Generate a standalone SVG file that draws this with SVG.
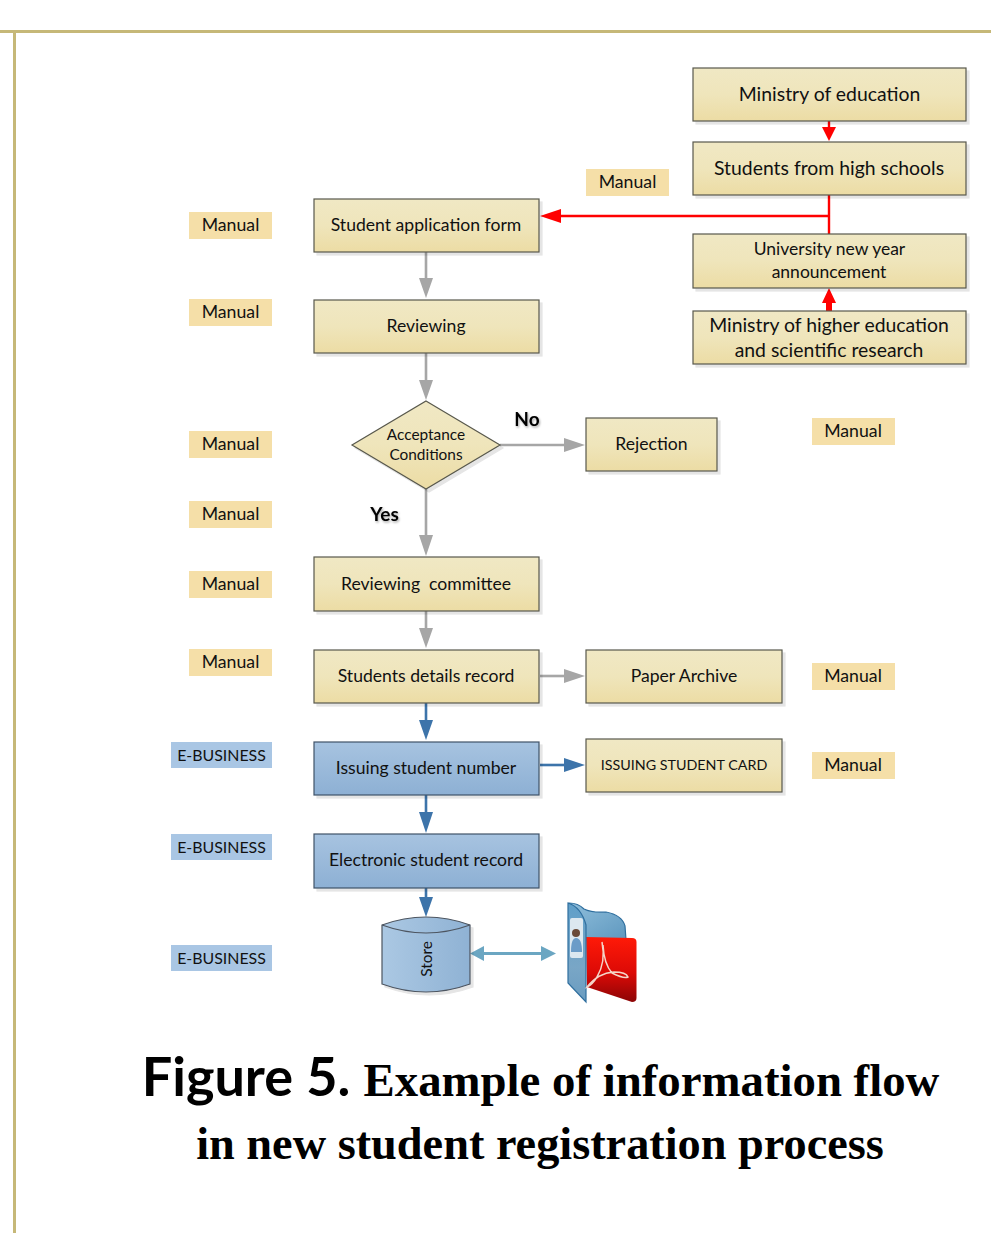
<svg xmlns="http://www.w3.org/2000/svg" width="991" height="1233" viewBox="0 0 991 1233">
<style>
text{font-family:Lato,"Open Sans","Liberation Sans",sans-serif;fill:#111;text-anchor:middle}
.b{stroke:#58584c;stroke-width:1.2;fill:url(#tan);filter:url(#sh)}
.bb{stroke:#3f5268;stroke-width:1.2;fill:url(#blue);filter:url(#sh)}
.t{font-size:17.6px}
.big{font-size:19.4px}
.a{font-size:17.5px}
.s{font-size:15.4px}
.c{font-size:14.3px}
.lm{fill:#f5dfa8}
.le{fill:#a9c6e4}
.tag{font-size:17.7px}
.eb{font-size:15.9px}
.g{fill:none;stroke:#a6a6a6;stroke-width:2.6}
.r{fill:none;stroke:#ff0000;stroke-width:2.4}
.bl{fill:none;stroke:#3d74aa;stroke-width:2.6}
.ag{fill:#a6a6a6}.ar{fill:#ff0000}.ab{fill:#3d74aa}.at{fill:#6ba6c2}
.yn{font-size:19px;font-weight:700;fill:#000}
.cap{font-family:"Liberation Serif",serif;font-weight:700;fill:#000}
</style>
<defs>
<linearGradient id="tan" x1="0" y1="0" x2="0" y2="1"><stop offset="0" stop-color="#f0e8c4"/><stop offset="0.5" stop-color="#efe5bb"/><stop offset="1" stop-color="#ecdca4"/></linearGradient>
<linearGradient id="blue" x1="0" y1="0" x2="0" y2="1"><stop offset="0" stop-color="#a7c3e0"/><stop offset="1" stop-color="#8db0d4"/></linearGradient>
<linearGradient id="cyl" x1="0" y1="0" x2="1" y2="0"><stop offset="0" stop-color="#abc8e3"/><stop offset="1" stop-color="#8fb2d4"/></linearGradient>
<linearGradient id="pdf" x1="0" y1="0" x2="0" y2="1"><stop offset="0" stop-color="#ff1a08"/><stop offset="0.55" stop-color="#dc0a06"/><stop offset="1" stop-color="#8c0506"/></linearGradient>
<linearGradient id="fold" x1="0" y1="0" x2="1" y2="1"><stop offset="0" stop-color="#8fbedb"/><stop offset="1" stop-color="#5f98bf"/></linearGradient>
<linearGradient id="panel" x1="0" y1="0" x2="0" y2="1"><stop offset="0" stop-color="#5f9fc9"/><stop offset="0.65" stop-color="#79a6c6"/><stop offset="1" stop-color="#6a9cc0"/></linearGradient>
<filter id="sh" x="-5%" y="-10%" width="112%" height="125%"><feDropShadow dx="3" dy="3" stdDeviation="0.7" flood-color="#000" flood-opacity="0.1"/></filter>
<filter id="ts" x="-20%" y="-20%" width="140%" height="150%"><feDropShadow dx="1" dy="1.500" stdDeviation="1" flood-color="#000" flood-opacity="0.35"/></filter>
</defs>
<g id="page-frame">
<rect x="0" y="30" width="991" height="3" fill="#c6b878"/>
<rect x="13" y="30" width="3" height="1203" fill="#c6b878"/>
</g>
<g id="connectors">
<path class="r" d="M829 121V128"/><path class="ar" d="M822 127H836L829 141Z"/>
<path class="r" d="M829 195V234M829 216H558"/><path class="ar" d="M540 216L561 209V223Z"/>
<path class="r" d="M829 311V300" style="stroke-width:6"/><path class="ar" d="M829 288L836 303H822Z"/>
<path class="g" d="M426 252V280"/><path class="ag" d="M419 278H433L426 298Z"/>
<path class="g" d="M426 353V382"/><path class="ag" d="M419 380H433L426 400Z"/>
<path class="g" d="M500 445H566"/><path class="ag" d="M564 438V452L585 445Z"/>
<path class="g" d="M426 489V537"/><path class="ag" d="M419 535H433L426 556Z"/>
<path class="g" d="M426 611V630"/><path class="ag" d="M419 628H433L426 648Z"/>
<path class="g" d="M540 676H566"/><path class="ag" d="M564 669V683L585 676Z"/>
<path class="bl" d="M426 703V722"/><path class="ab" d="M419 720H433L426 740Z"/>
<path class="bl" d="M540 765H566"/><path class="ab" d="M564 758V772L585 765Z"/>
<path class="bl" d="M426 795V815"/><path class="ab" d="M419 812H433L426 833Z"/>
<path class="bl" d="M426 888V900"/><path class="ab" d="M419 897H433L426 917Z"/>
<path d="M480 953.500H545" fill="none" stroke="#6ba6c2" stroke-width="3"/>
<path class="at" d="M470 953.500L484 946V961Z"/><path class="at" d="M541 946V961L556 953.500Z"/>
</g>
<g id="n-ministry-edu"><rect class="b" x="693" y="68" width="273" height="53"/><text class="big" x="829.500" y="101">Ministry of education</text></g>
<g id="n-students-hs"><rect class="b" x="693" y="142" width="273" height="53"/><text class="big" x="829" y="175">Students from high schools</text></g>
<g id="n-announcement"><rect class="b" x="693" y="234" width="273" height="54"/><text class="a" x="829.500" y="255">University new year</text><text class="a" x="829" y="278">announcement</text></g>
<g id="n-ministry-higher"><rect class="b" x="693" y="311" width="273" height="53"/><text class="big" x="829" y="332">Ministry of higher education</text><text class="big" x="829" y="357">and scientific research</text></g>
<g id="n-application"><rect class="b" x="314" y="199" width="225" height="53"/><text class="t" x="426" y="231">Student application form</text></g>
<g id="n-reviewing"><rect class="b" x="314" y="300" width="225" height="53"/><text class="t" x="426" y="332">Reviewing</text></g>
<g id="n-acceptance"><path class="b" d="M426 401L500 445L426 489L352 445Z"/><text class="s" x="426" y="440">Acceptance</text><text class="s" x="426" y="460">Conditions</text></g>
<g id="n-rejection"><rect class="b" x="586" y="418" width="131" height="53"/><text class="t" x="651.500" y="450">Rejection</text></g>
<g id="n-committee"><rect class="b" x="314" y="557" width="225" height="54"/><text class="t" x="426" y="590" xml:space="preserve">Reviewing  committee</text></g>
<g id="n-details"><rect class="b" x="314" y="650" width="225" height="53"/><text class="t" x="426" y="682">Students details record</text></g>
<g id="n-archive"><rect class="b" x="586" y="650" width="196" height="53"/><text class="t" x="684" y="682">Paper Archive</text></g>
<g id="n-number"><rect class="bb" x="314" y="742" width="225" height="53"/><text class="t" x="426" y="774">Issuing student number</text></g>
<g id="n-card"><rect class="b" x="586" y="739" width="196" height="53"/><text class="c" x="684" y="770">ISSUING STUDENT CARD</text></g>
<g id="n-electronic"><rect class="bb" x="314" y="834" width="225" height="54"/><text class="t" x="426" y="866">Electronic student record</text></g>
<g id="n-store"><path d="M382 925Q426 909 470 925V984Q426 1000 382 984Z" fill="url(#cyl)" stroke="#4d5560" stroke-width="1.200" filter="url(#sh)"/><path d="M382 925Q426 941 470 925" fill="none" stroke="#4d5560" stroke-width="1.200"/><text class="s" transform="translate(431.500 959) rotate(-90)" x="0" y="0">Store</text></g>
<g id="n-pdf-icon">
<path d="M569 903Q578 903 584 909Q592 913 606 912Q622 915 625 926L626 940H586L569 930Z" fill="url(#fold)" stroke="#2f6f9f" stroke-width="1.200"/>
<path d="M586 937L632 938Q636.500 938 636.500 942V998Q636.500 1002 632 1002L587 987Z" fill="url(#pdf)"/>
<path d="M568 903Q581 907 586 925V1002L568 983Z" fill="url(#panel)" stroke="#2f6f9f" stroke-width="1.200"/>
<rect x="570" y="918" width="13" height="40" rx="2" fill="#dce8f0"/>
<circle cx="576" cy="933" r="4" fill="#6a4a38"/><path d="M571 952Q571 938 576 938Q582 938 582 952Z" fill="#6b9cc8"/>
<path d="M602 942Q606 962 597 977Q592 985 587 987Q598 973 614 972Q626 972 628 977Q624 979 612 973Q604 964 603 945" fill="none" stroke="#f4d4c8" stroke-width="1.500"/>
</g>
<g id="tags">
<rect class="lm" x="586" y="169" width="83" height="27"/><text class="tag" x="627.500" y="188">Manual</text>
<rect class="lm" x="189" y="212" width="83" height="27"/><text class="tag" x="230.500" y="231">Manual</text>
<rect class="lm" x="189" y="299" width="83" height="27"/><text class="tag" x="230.500" y="318">Manual</text>
<rect class="lm" x="189" y="431" width="83" height="27"/><text class="tag" x="230.500" y="450">Manual</text>
<rect class="lm" x="812" y="418" width="83" height="27"/><text class="tag" x="853" y="437">Manual</text>
<rect class="lm" x="189" y="501" width="83" height="27"/><text class="tag" x="230.500" y="520">Manual</text>
<rect class="lm" x="189" y="571" width="83" height="27"/><text class="tag" x="230.500" y="590">Manual</text>
<rect class="lm" x="189" y="649" width="83" height="27"/><text class="tag" x="230.500" y="668">Manual</text>
<rect class="lm" x="812" y="663" width="83" height="27"/><text class="tag" x="853" y="682">Manual</text>
<rect class="lm" x="812" y="752" width="83" height="27"/><text class="tag" x="853" y="771">Manual</text>
<rect class="le" x="171" y="742" width="101" height="26"/><text class="eb" x="221.500" y="761">E-BUSINESS</text>
<rect class="le" x="171" y="834" width="101" height="26"/><text class="eb" x="221.500" y="853">E-BUSINESS</text>
<rect class="le" x="171" y="945" width="101" height="26"/><text class="eb" x="221.500" y="964">E-BUSINESS</text>
</g>
<g id="labels">
<text class="yn" x="527" y="426" filter="url(#ts)">No</text>
<text class="yn" x="384.500" y="521" filter="url(#ts)">Yes</text>
</g>
<g id="caption">
<text x="246" y="1096" style="font-size:54px;font-weight:700;fill:#000">Figure 5.</text>
<text class="cap" style="font-size:46.800px" x="651.500" y="1096">Example of information flow</text>
<text class="cap" style="font-size:46.300px" x="540" y="1158.500">in new student registration process</text>
</g>
</svg>
